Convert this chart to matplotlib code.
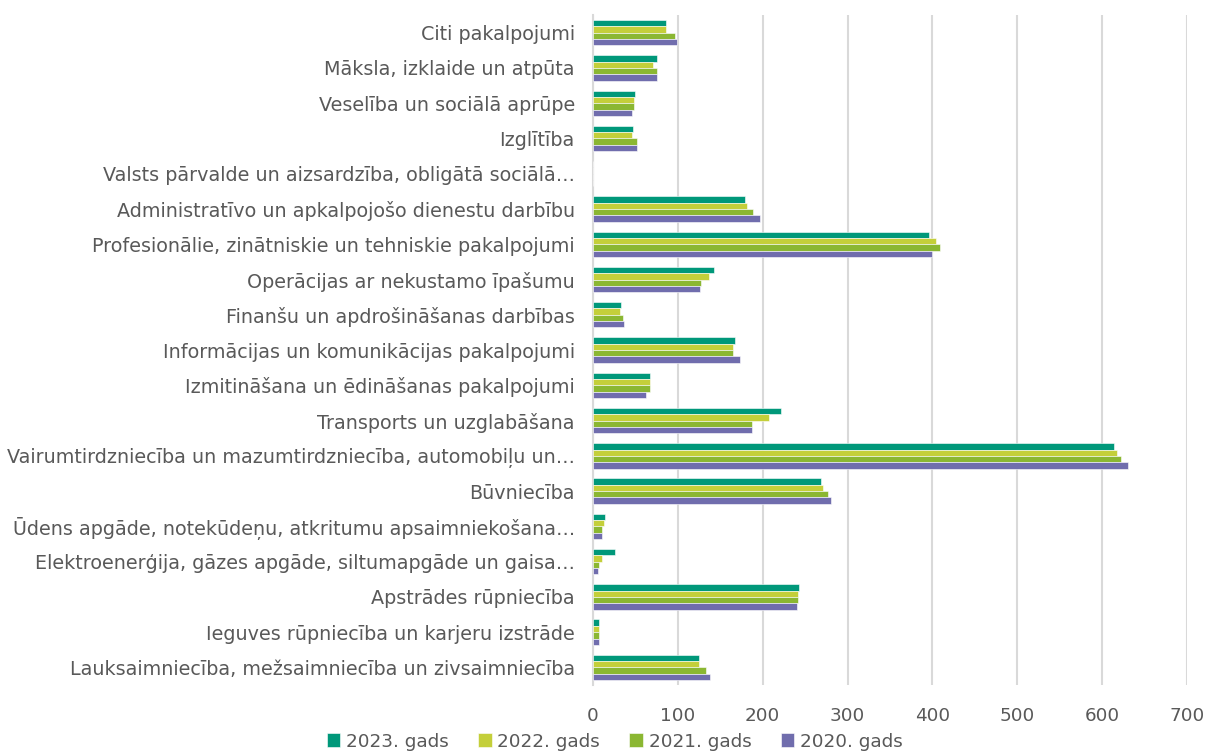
import matplotlib
matplotlib.use('Agg')
import matplotlib.pyplot as plt
import numpy as np

# --- data (top to bottom as shown) ---
categories = [
    "Citi pakalpojumi",
    "Māksla, izklaide un atpūta",
    "Veselība un sociālā aprūpe",
    "Izglītība",
    "Valsts pārvalde un aizsardzība, obligātā sociālā…",
    "Administratīvo un apkalpojošo dienestu darbību",
    "Profesionālie, zinātniskie un tehniskie pakalpojumi",
    "Operācijas ar nekustamo īpašumu",
    "Finanšu un apdrošināšanas darbības",
    "Informācijas un komunikācijas pakalpojumi",
    "Izmitināšana un ēdināšanas pakalpojumi",
    "Transports un uzglabāšana",
    "Vairumtirdzniecība un mazumtirdzniecība, automobiļu un…",
    "Būvniecība",
    "Ūdens apgāde, notekūdeņu, atkritumu apsaimniekošana…",
    "Elektroenerģija, gāzes apgāde, siltumapgāde un gaisa…",
    "Apstrādes rūpniecība",
    "Ieguves rūpniecība un karjeru izstrāde",
    "Lauksaimniecība, mežsaimniecība un zivsaimniecība",
]

y2023 = [86, 75, 50, 47, 0, 179, 396, 143, 33, 168, 67, 222, 614, 269, 14, 26, 243, 7, 125]
y2022 = [86, 71, 49, 46, 0, 182, 404, 137, 32, 165, 67, 207, 618, 271, 13, 11, 242, 7, 125]
y2021 = [97, 75, 48, 52, 0, 189, 409, 127, 35, 165, 67, 187, 622, 277, 11, 7, 242, 7, 133]
y2020 = [99, 75, 46, 52, 0, 197, 400, 126, 37, 173, 63, 187, 631, 280, 11, 6, 240, 7, 138]

series_labels = ["2023. gads", "2022. gads", "2021. gads", "2020. gads"]
colors = ['#00987A', '#C4CF3A', '#8BB732', '#706DAD']

plt.rcParams['font.family'] = ['DejaVu Sans']

fig = plt.figure(figsize=(12.1, 7.52), dpi=100)
ax = fig.add_axes([0.490, 0.089, 0.491, 0.891])

y = np.arange(len(categories))
h = 0.18
for i, (vals, lab, col) in enumerate(zip([y2023, y2022, y2021, y2020], series_labels, colors)):
    ax.barh(y + (i - 1.5) * h, vals, height=h, color=col, label=lab,
            edgecolor='white', linewidth=0.4, zorder=3)

ax.set_ylim(len(categories) - 0.5, -0.5)
ax.set_xlim(0, 700)
ax.set_xticks(np.arange(0, 701, 100))
ax.set_yticks(y)
ax.set_yticklabels(categories)
ax.tick_params(axis='both', length=0, colors='#595959', labelsize=13.2)
ax.tick_params(axis='y', pad=13, labelsize=13.8)
ax.tick_params(axis='x', pad=16)

ax.grid(axis='x', color='#D9D9D9', linewidth=1.5, zorder=0)
for s in ['top', 'right', 'bottom']:
    ax.spines[s].set_visible(False)
ax.spines['left'].set_color('#D9D9D9')
ax.spines['left'].set_linewidth(1.5)

fig.legend(loc='lower center', bbox_to_anchor=(0.508, -0.02), ncol=4, frameon=False,
           fontsize=13.2, handlelength=0.75, handleheight=0.75, handletextpad=0.3,
           columnspacing=1.6, labelcolor='#595959')

fig.savefig('out.png', dpi=100, facecolor='white')
